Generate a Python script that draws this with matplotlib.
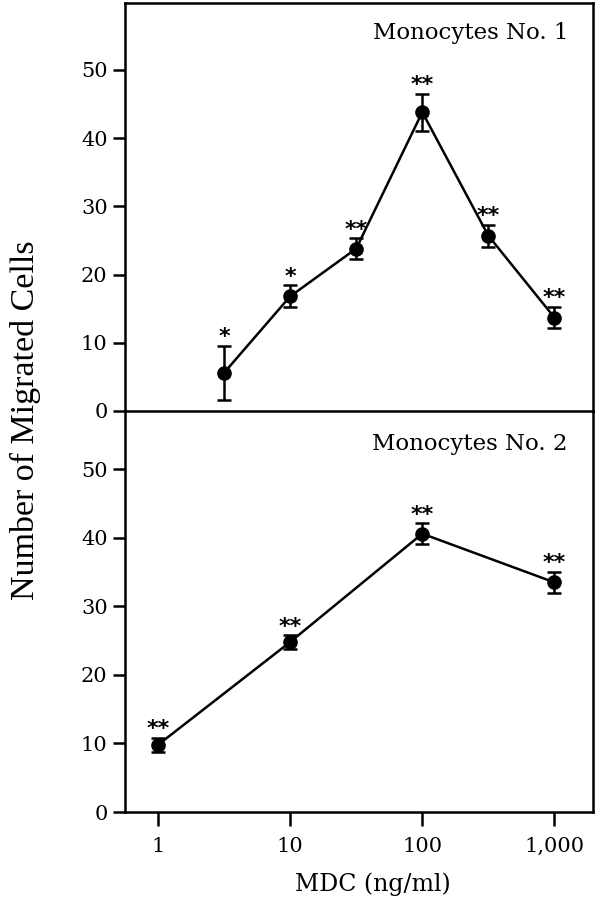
import matplotlib
matplotlib.use("Agg")
import matplotlib.pyplot as plt
from matplotlib.ticker import FixedLocator, FixedFormatter, NullLocator

# Data
x1 = [3.16, 10, 31.6, 100, 316, 1000]
y1 = [5.6, 16.8, 23.8, 43.8, 25.7, 13.7]
e1 = [4.0, 1.6, 1.5, 2.7, 1.6, 1.6]
s1 = ["*", "*", "**", "**", "**", "**"]

x2 = [1, 10, 100, 1000]
y2 = [9.8, 24.8, 40.6, 33.5]
e2 = [1.0, 1.0, 1.5, 1.5]
s2 = ["**", "**", "**", "**"]

xticks = [1, 10, 100, 1000]
xticklabels = ["1", "10", "100", "1,000"]
yticks = [0, 10, 20, 30, 40, 50]

serif = "DejaVu Serif"
fig = plt.figure(figsize=(6.02, 8.99), dpi=100)
L, R = 125 / 602, 593 / 602
ax1 = fig.add_axes([L, 1 - 411 / 899, R - L, (411 - 3) / 899])
ax2 = fig.add_axes([L, 1 - 812 / 899, R - L, (812 - 411) / 899], sharex=ax1)
ax2.patch.set_visible(False)

def style(ax, x, y, e, s, ylim, label, ty):
    ax.errorbar(x, y, yerr=e, color="black", lw=1.8, marker="o", ms=9.5,
                capsize=5.2, capthick=1.8, elinewidth=1.8)
    for xi, yi, ei, si in zip(x, y, e, s):
        ax.annotate(si, (xi, yi + ei), xytext=(0, -1), textcoords="offset points",
                    ha="center", va="bottom", fontsize=16, fontweight="bold",
                    family="DejaVu Sans")
    ax.set_xscale("log")
    ax.set_xlim(0.562, 1960)
    ax.set_ylim(*ylim)
    ax.yaxis.set_major_locator(FixedLocator(yticks))
    ax.yaxis.set_minor_locator(NullLocator())
    for sp in ax.spines.values():
        sp.set_linewidth(1.8)
    ax.tick_params(axis="y", direction="out", length=9, width=1.8, labelsize=15)
    for t in ax.get_yticklabels():
        t.set_family(serif)
    ax.text(568 / 602, ty, label, transform=fig.transFigure,
            ha="right", va="center", fontsize=16.5, family=serif)

style(ax1, x1, y1, e1, s1, (0, 59.8), "Monocytes No. 1", 1 - 33 / 899)
style(ax2, x2, y2, e2, s2, (0, 58.5), "Monocytes No. 2", 1 - 444 / 899)

ax2.spines["top"].set_visible(False)
ax1.tick_params(axis="x", which="both", bottom=False, labelbottom=False)
ax2.xaxis.set_major_locator(FixedLocator(xticks))
ax2.xaxis.set_major_formatter(FixedFormatter(xticklabels))
ax2.xaxis.set_minor_locator(NullLocator())
ax2.tick_params(axis="x", which="major", direction="out", length=10, width=1.8,
                labelsize=15, pad=8)
for t in ax2.get_xticklabels():
    t.set_family(serif)

fig.text(373 / 602, 1 - 884 / 899, "MDC (ng/ml)", ha="center", va="center",
         fontsize=17, family=serif)

fig.text(25 / 602, 1 - 420 / 899, "Number of Migrated Cells", rotation=90,
         ha="center", va="center", fontsize=24.5, family="Liberation Serif")

fig.savefig("out.png", dpi=100)
